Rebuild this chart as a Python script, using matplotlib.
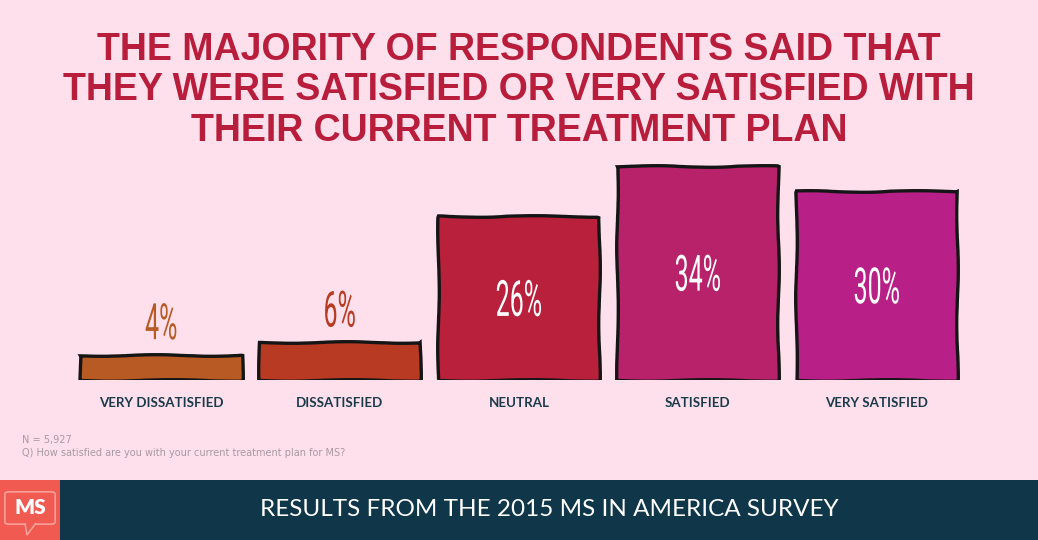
import matplotlib.pyplot as plt
import matplotlib.transforms as mtransforms
from matplotlib.patches import Rectangle, FancyBboxPatch, Polygon, PathPatch
from matplotlib.textpath import TextPath
from matplotlib.font_manager import FontProperties

# ----------------------------------------------------------------
# Data
# ----------------------------------------------------------------
categories = ['VERY DISSATISFIED', 'DISSATISFIED', 'NEUTRAL', 'SATISFIED', 'VERY SATISFIED']
values = [4, 6, 26, 34, 30]
bar_colors = ['#b85a24', '#b83a22', '#b8203c', '#b8226a', '#b82088']
title_lines = ['THE MAJORITY OF RESPONDENTS SAID THAT',
               'THEY WERE SATISFIED OR VERY SATISFIED WITH',
               'THEIR CURRENT TREATMENT PLAN']
footnote_n = 'N = 5,927'
footnote_q = 'Q) How satisfied are you with your current treatment plan for MS?'
banner = 'RESULTS FROM THE 2015 MS IN AMERICA SURVEY'

bg = '#fde0ec'
title_color = '#b81e3c'
label_color = '#1a3a4a'
band_color = '#10364a'
DPI = 100


# ----------------------------------------------------------------
# Draw a horizontally squeezed (condensed) label centred on a data point
# ----------------------------------------------------------------
def condensed_text(axx, x, y, s, color, size_px=50, xscale=0.5, va='center'):
  prop = FontProperties(family=['Roboto', 'DejaVu Sans'], weight='normal')
  path = TextPath((0, 0), s, size=size_px, prop=prop)
  ext = path.get_extents()
  cx = (ext.x0 + ext.x1) / 2
  if va == 'center':
    cy = (ext.y0 + ext.y1) / 2
  else:
    cy = ext.y0
  trans = (mtransforms.Affine2D().translate(-cx, -cy).scale(xscale, 1.0)
           + mtransforms.ScaledTranslation(x, y, axx.transData))
  axx.add_patch(PathPatch(path, facecolor=color, edgecolor='none', transform=trans, zorder=5))


fig = plt.figure(figsize=(10.38, 5.40), dpi=DPI)
fig.patch.set_facecolor(bg)

# ----------------------------------------------------------------
# Bars
# ----------------------------------------------------------------
axx = fig.add_axes([0.0689, 0.2963, 0.862, 0.42])
axx.set_facecolor('none')
xs = list(range(len(categories)))
bars = axx.bar(xs, values, width=0.9, color=bar_colors, edgecolor='#151515', linewidth=2.4)
for b in bars:
  b.set_sketch_params(scale=0.8, length=150, randomness=3)
axx.set_xlim(-0.5, len(categories) - 0.5)
axx.set_ylim(0, 36)
axx.axis('off')

for x, v, c, cat in zip(xs, values, bar_colors, categories):
  if v < 10:
    condensed_text(axx, x, v + 2.4, f'{v}%', c, va='bottom')
  else:
    condensed_text(axx, x, v / 2, f'{v}%', 'white')
  axx.text(x, -3.6, cat, ha='center', va='center',
           fontsize=9.6, fontweight='bold', color=label_color, family='Lato')

# ----------------------------------------------------------------
# Title
# ----------------------------------------------------------------
title_y = [46, 86.5, 127]
for line, ty in zip(title_lines, title_y):
  fig.text(0.5, 1 - ty / 540, line, ha='center', va='center_baseline', fontsize=27,
           fontweight='bold', color=title_color, family='Liberation Sans')

# ----------------------------------------------------------------
# Footnotes
# ----------------------------------------------------------------
fig.text(22 / 1038, 1 - 440 / 540, footnote_n, ha='left', va='center', fontsize=7, color='#a89aa0')
fig.text(22 / 1038, 1 - 453 / 540, footnote_q, ha='left', va='center', fontsize=7, color='#a89aa0')

# ----------------------------------------------------------------
# Bottom banner with logo
# ----------------------------------------------------------------
fig.patches.append(Rectangle((0, 0), 1, 60 / 540, transform=fig.transFigure,
                             facecolor=band_color, edgecolor='none', zorder=0))
fig.patches.append(Rectangle((0, 0), 60 / 1038, 60 / 540, transform=fig.transFigure,
                             facecolor='#f05a50', edgecolor='none', zorder=1))
fig.patches.append(FancyBboxPatch((9 / 1038, 18 / 540), 42 / 1038, 28 / 540,
                                  boxstyle='round,pad=0.004', transform=fig.transFigure,
                                  facecolor='none', edgecolor='#f8a09a', linewidth=1.2, zorder=2))
fig.patches.append(Polygon([(25 / 1038, 17 / 540), (27 / 1038, 5 / 540), (36 / 1038, 17 / 540)],
                           closed=False, transform=fig.transFigure,
                           facecolor='#f05a50', edgecolor='#f8a09a', linewidth=1.2, zorder=3))
fig.text(30 / 1038, 32 / 540, 'MS', ha='center', va='center', fontsize=15, fontweight='heavy',
         color='white', family='Lato', zorder=4)
fig.text(549 / 1038, 30 / 540, banner, ha='center', va='center', fontsize=17.5,
         color='white', family='Lato')

fig.savefig('out.png', dpi=DPI, facecolor=bg)
